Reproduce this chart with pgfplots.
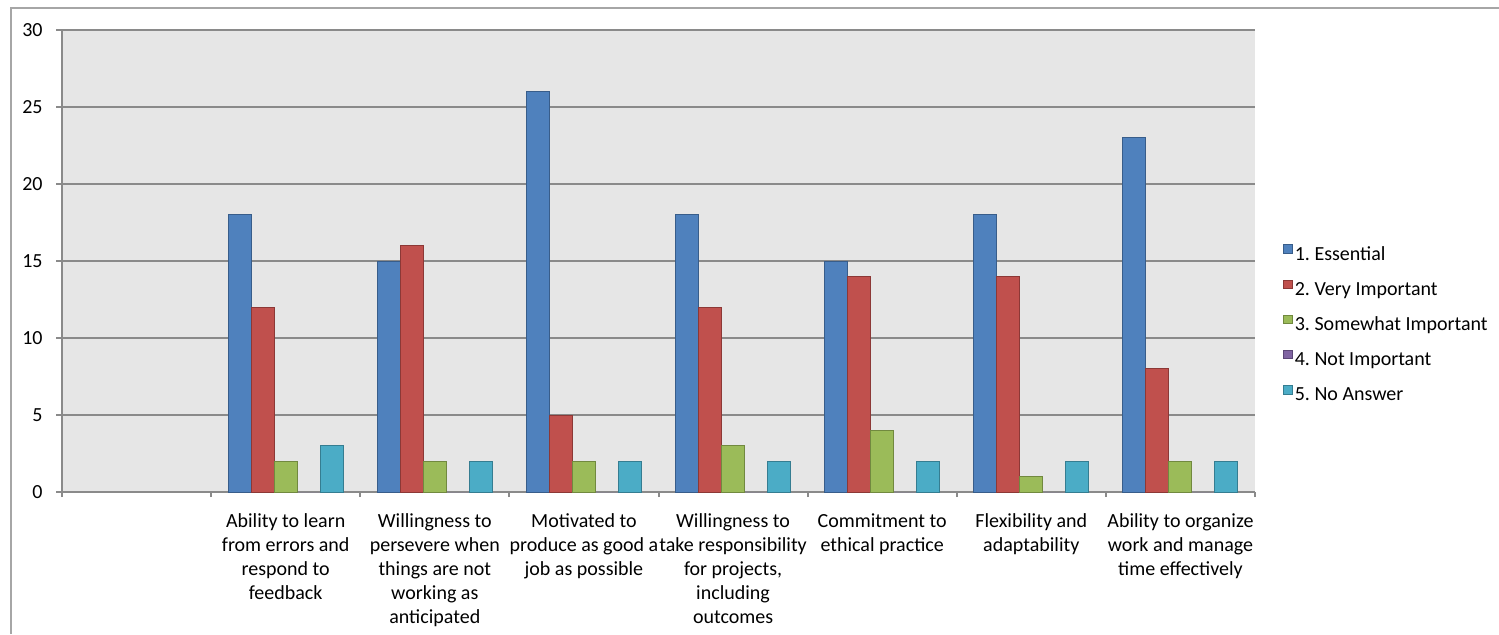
\documentclass[border=0pt]{standalone}
\usepackage{pgfplots}
\pgfplotsset{compat=1.18}
\usepackage{pgfplotstable}
\usepackage{fontspec}
\setmainfont{Carlito}
\frenchspacing
\definecolor{cE}{HTML}{4F81BD}\definecolor{dE}{HTML}{385D8A}
\definecolor{cV}{HTML}{C0504D}\definecolor{dV}{HTML}{8C3836}
\definecolor{cS}{HTML}{9BBB59}\definecolor{dS}{HTML}{71893F}
\definecolor{cN}{HTML}{8064A2}\definecolor{dN}{HTML}{5C4776}
\definecolor{cA}{HTML}{4BACC6}\definecolor{dA}{HTML}{357D91}
\definecolor{plotbg}{HTML}{E6E6E6}
\definecolor{gridc}{HTML}{8A8A8A}
\definecolor{framec}{HTML}{A6A6A6}
\pgfplotstableread{
x e v s n a
1 18 12 2 0 3
2 15 16 2 0 2
3 26 5 2 0 2
4 18 12 3 0 2
5 15 14 4 0 2
6 18 14 1 0 2
7 23 8 2 0 2
}\datatable
\begin{document}
\begin{tikzpicture}[x=1bp,y=1bp]
\path[use as bounding box] (0,0) rectangle (749.5,317);
\draw[framec, line width=1bp] (5.5,0) -- (5.5,313) -- (749.5,313);
\begin{axis}[
  at={(31bp,71bp)}, anchor=south west,
  scale only axis, width=596.5bp, height=231bp,
  ybar=0pt, bar width=11.5bp,
  xmin=-0.5, xmax=7.5, ymin=0, ymax=30,
  xtick={0,...,7},
  xticklabels={{},
    {Ability to learn\\from errors and\\respond to\\feedback},
    {Willingness to\\persevere when\\things are not\\working as\\anticipated},
    {Motivated to\\produce as good a\\job as possible},
    {Willingness to\\take responsibility\\for projects,\\including\\outcomes},
    {Commitment to\\ethical practice},
    {Flexibility and\\adaptability},
    {Ability to organize\\work and manage\\time effectively}},
  minor xtick={-0.5,0.5,...,7.5},
  ytick={0,5,...,30},
  /pgf/number format/assume math mode=true,
  ymajorgrids, grid style={gridc, line width=1bp},
  axis x line*=bottom, axis y line*=left,
  axis line style={gridc, line width=1bp, -},
  tick style={gridc, line width=1bp},
  major x tick style={draw=none},
  tick align=outside, major tick length=3bp, minor tick length=2.5bp,
  axis background/.style={fill=plotbg},
  tick label style={font=\fontsize{10bp}{12bp}\selectfont, text=black},
  xticklabel style={align=center, anchor=north, inner sep=0pt, yshift=-7.6bp},
  yticklabel style={anchor=east, inner sep=0pt, xshift=-6.5bp},
  legend style={at={(axis description cs:1.0235,0.5368)}, anchor=north west,
    draw=none, fill=none, inner sep=0pt, row sep=7.8bp, column sep=1bp,
    font=\fontsize{10bp}{12bp}\selectfont,
    nodes={inner sep=0pt, text height=7bp, text depth=2bp}},
  legend cell align=left,
  every axis plot/.append style={line width=0.5bp,
    legend image code/.code={\draw[##1, line width=0.5bp] (0bp,0.85bp) rectangle (4.2bp,5.05bp);}},
]
\addplot[fill=cE, draw=dE] table[x=x, y=e] {\datatable};
\addlegendentry{1. Essential}
\addplot[fill=cV, draw=dV] table[x=x, y=v] {\datatable};
\addlegendentry{2. Very Important}
\addplot[fill=cS, draw=dS] table[x=x, y=s] {\datatable};
\addlegendentry{3. Somewhat Important}
\addplot[fill=cN, draw=none, legend image code/.code={\draw[fill=cN, draw=dN, line width=0.5bp] (0bp,0.85bp) rectangle (4.2bp,5.05bp);}] table[x=x, y=n] {\datatable};
\addlegendentry{4. Not Important}
\addplot[fill=cA, draw=dA] table[x=x, y=a] {\datatable};
\addlegendentry{5. No Answer}
\end{axis}
\end{tikzpicture}
\end{document}
